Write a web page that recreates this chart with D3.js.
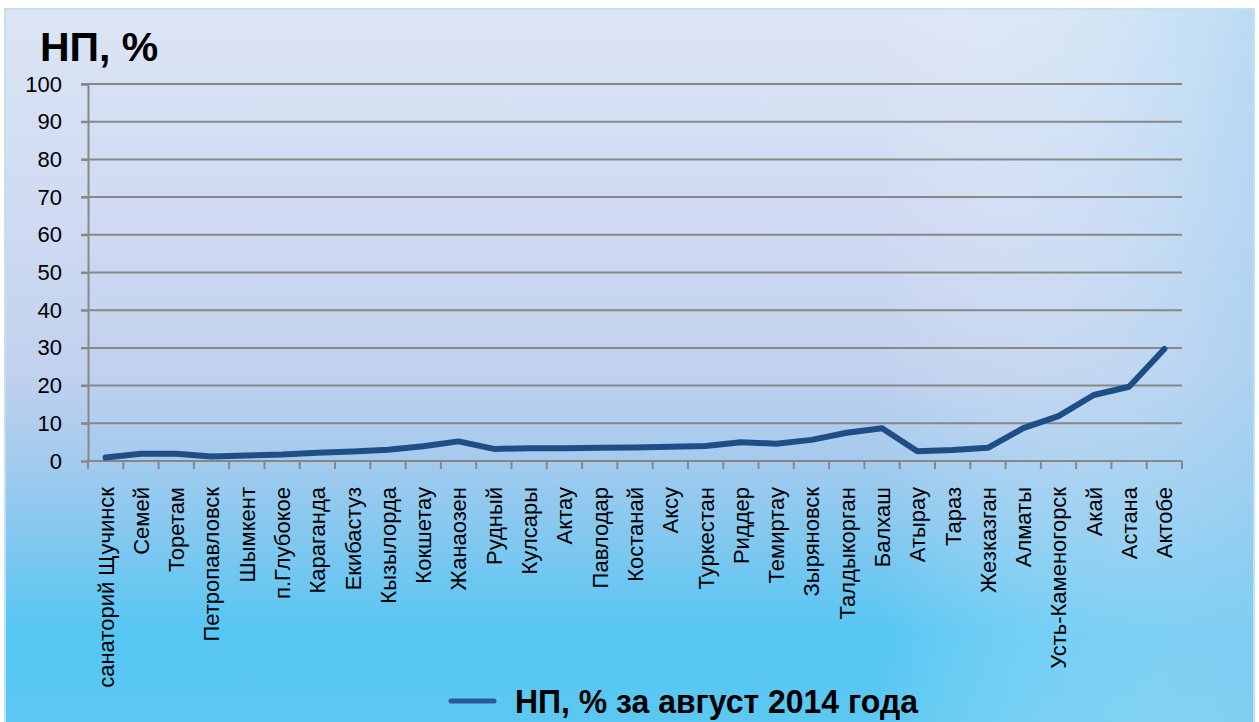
<!DOCTYPE html>
<html><head><meta charset="utf-8">
<script src="https://cdn.jsdelivr.net/npm/d3@7"></script>
<style>html,body{margin:0;padding:0;background:#fff;}svg{display:block;}</style>
</head><body>
<script>
const categories = ["санаторий Щучинск","Семей","Торетам","Петропавловск","Шымкент","п.Глубокое","Караганда","Екибастуз","Кызылорда","Кокшетау","Жанаозен","Рудный","Кулсары","Актау","Павлодар","Костанай","Аксу","Туркестан","Риддер","Темиртау","Зыряновск","Талдыкорган","Балхаш","Атырау","Тараз","Жезказган","Алматы","Усть-Каменогорск","Акай","Астана","Актобе"];
const values = [0.9,1.9,1.9,1.2,1.45,1.7,2.2,2.5,3.0,3.9,5.2,3.2,3.4,3.4,3.5,3.6,3.8,4.0,5.0,4.6,5.6,7.5,8.7,2.6,2.9,3.5,8.7,11.9,17.5,19.7,29.7];
const yTicks = [0,10,20,30,40,50,60,70,80,90,100];
const titleText = "НП, %";
const legendText = "НП, % за август 2014 года";

const W = 1259, H = 722;
const svg = d3.select("body").append("svg").attr("width", W).attr("height", H);
const defs = svg.append("defs");
const g1 = defs.append("linearGradient").attr("id","bg").attr("x1",0).attr("y1",0).attr("x2",0).attr("y2",1);
[[0,"#dbe5f5"],[0.3,"#cfdaf2"],[0.5,"#c2d1ee"],[0.62,"#a6cbee"],[0.72,"#88c8ef"],[0.87,"#56c6f3"],[1,"#5cc8f2"]].forEach(([o,c])=>g1.append("stop").attr("offset",o).attr("stop-color",c));
const g2 = defs.append("linearGradient").attr("id","bgh").attr("x1",0).attr("y1",0).attr("x2",1).attr("y2",0);
[[0,"#ffffff",0],[0.7,"#ffffff",0],[1,"#9fd3f3",0.55]].forEach(([o,c,op])=>g2.append("stop").attr("offset",o).attr("stop-color",c).attr("stop-opacity",op));

svg.append("rect").attr("x",5).attr("y",9).attr("width",1249).attr("height",716).attr("fill","url(#bg)").attr("stroke","#bfe2ec").attr("stroke-width",2);
svg.append("rect").attr("x",6).attr("y",10).attr("width",1247).attr("height",714).attr("fill","url(#bgh)");

const mLeft = 88, mRight = 1182, mTop = 84, mBottom = 461;
const x = d3.scaleBand().domain(categories).range([mLeft, mRight]);
const y = d3.scaleLinear().domain([0,100]).range([mBottom, mTop]);

// gridlines
svg.append("g").selectAll("line").data(yTicks.filter(d=>d>0)).join("line")
  .attr("x1", mLeft-7).attr("x2", mRight).attr("y1", d=>y(d)).attr("y2", d=>y(d))
  .attr("stroke","#878787").attr("stroke-width",2);

// y axis
const ya = svg.append("g").attr("transform",`translate(${mLeft},0)`)
  .call(d3.axisLeft(y).tickValues(yTicks).tickSize(7).tickPadding(19));
ya.select(".domain").attr("stroke","#878787").attr("stroke-width",2);
ya.selectAll(".tick line").attr("stroke","#878787").attr("stroke-width",2);
ya.selectAll(".tick text").attr("font-family","Liberation Sans, Arial, sans-serif").attr("font-size",22).attr("fill","#000");

// x axis
const xa = svg.append("g").attr("transform",`translate(0,${mBottom})`)
  .call(d3.axisBottom(x).tickSize(0).tickSizeOuter(0));
xa.select(".domain").attr("stroke","#878787").attr("stroke-width",2).attr("d",`M${mLeft},0H${mRight}`);
xa.selectAll(".tick text")
  .attr("font-family","Liberation Sans, Arial, sans-serif").attr("font-size",22).attr("fill","#000")
  .attr("transform","rotate(-90)").attr("text-anchor","end").attr("x",-26).attr("y",0).attr("dy","0.36em");
// band boundary ticks
const edges = categories.map(c=>x(c)).concat([mRight]);
svg.append("g").selectAll("line").data(edges).join("line")
  .attr("x1",d=>d).attr("x2",d=>d).attr("y1",mBottom).attr("y2",mBottom+8)
  .attr("stroke","#878787").attr("stroke-width",2);

// line
const line = d3.line().x((d,i)=>x(categories[i])+x.bandwidth()/2).y(d=>y(d));
svg.append("path").datum(values).attr("d",line).attr("fill","none")
  .attr("stroke","#1f4e86").attr("stroke-width",6).attr("stroke-linejoin","round").attr("stroke-linecap","round");

// title
svg.append("text").attr("x",40).attr("y",61).text(titleText)
  .attr("font-family","Liberation Sans, Arial, sans-serif").attr("font-weight","bold").attr("font-size",41).attr("fill","#000");

// legend
svg.append("line").attr("x1",451).attr("x2",494).attr("y1",701).attr("y2",701)
  .attr("stroke","#2a5a95").attr("stroke-width",5).attr("stroke-linecap","round");
svg.append("text").attr("x",515).attr("y",713).text(legendText)
  .attr("font-family","Liberation Sans, Arial, sans-serif").attr("font-weight","bold").attr("font-size",33).attr("fill","#000")
  .attr("textLength",403).attr("lengthAdjust","spacingAndGlyphs");
</script>
</body></html>
